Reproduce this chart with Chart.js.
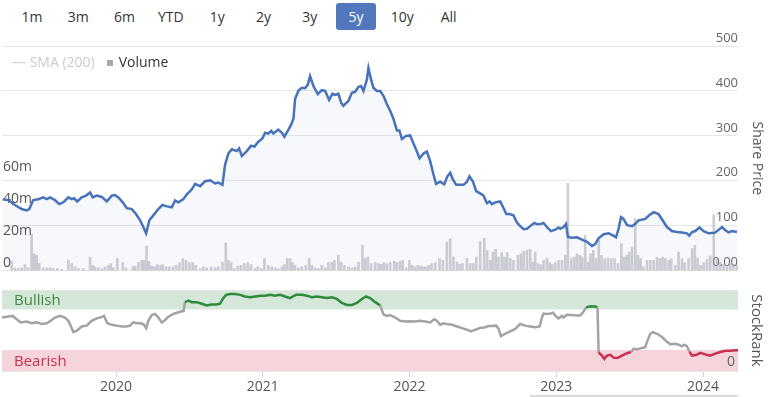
<!DOCTYPE html>
<html>
<head>
<meta charset="utf-8">
<script src="https://cdn.jsdelivr.net/npm/chart.js@4.4.1/dist/chart.umd.min.js"></script>
<style>
  html, body { margin: 0; padding: 0; background: #fff; }
  body { width: 769px; height: 397px; position: relative; overflow: hidden; font-family: 'Open Sans', sans-serif; }
  #ranges { position: absolute; left: 12px; top: 3px; display: flex; gap: 6.3px; }
  #ranges span { width: 40px; height: 27px; line-height: 27px; text-align: center; font-size: 14px; color: #333; border-radius: 3px; }
  #ranges span.on { background: #5177bc; color: #fff; }
  #legend { position: absolute; left: 12px; top: 52px; font-size: 14px; line-height: 20px; white-space: nowrap; }
  #legend .off { color: #ccc; }
  #legend .sq { display: inline-block; width: 6px; height: 6px; background: #aaa; margin: 0 6px 0 12px; vertical-align: 1px; }
  #legend .on { color: #333; }
  canvas { position: absolute; left: 0; }
  #main { top: 0; }
  #rank { top: 280px; }
  #scroll { position: absolute; left: 530px; width: 208px; top: 395px; height: 2px; background: #dcdcdc; }
</style>
</head>
<body>
<div id="ranges"></div>
<canvas id="main" width="769" height="280"></canvas>
<canvas id="rank" width="769" height="117"></canvas>
<div id="legend"><span class="off">— SMA (200)</span><span class="sq"></span><span class="on">Volume</span></div>
<div id="scroll"></div>
<script>
var rangeLabels = ['1m', '3m', '6m', 'YTD', '1y', '2y', '3y', '5y', '10y', 'All'];
var activeRange = '5y';

var xMin = 2019.223, xMax = 2024.238;
var yearTicks = [2020, 2021, 2022, 2023, 2024];
var priceTicks = [0, 100, 200, 300, 400, 500];
var volTicks = [0, 20, 40, 60];
var bullLevel = 76, bearLevel = 26;

var priceDates = [2019.228,2019.266,2019.311,2019.357,2019.391,2019.409,2019.436,2019.470,2019.504,2019.528,2019.550,2019.584,2019.613,2019.641,2019.675,2019.698,2019.714,2019.736,2019.766,2019.796,2019.823,2019.841,2019.868,2019.903,2019.937,2019.971,2019.993,
  2020.016,2020.046,2020.073,2020.107,2020.136,2020.164,2020.186,2020.205,2020.227,2020.254,2020.288,2020.316,2020.346,2020.380,2020.402,2020.425,2020.459,2020.482,2020.505,2020.516,2020.539,2020.573,2020.607,2020.641,2020.675,2020.697,2020.725,2020.743,2020.766,2020.789,2020.823,2020.839,2020.857,2020.891,2020.920,2020.943,2020.970,2020.997,
  2021.016,2021.038,2021.057,2021.072,2021.106,2021.130,2021.147,2021.175,2021.193,2021.209,2021.220,2021.243,2021.266,2021.288,2021.307,2021.322,2021.345,2021.375,2021.402,2021.425,2021.452,2021.475,2021.493,2021.515,2021.534,2021.549,2021.584,2021.607,2021.629,2021.652,2021.670,2021.686,2021.709,2021.720,2021.738,2021.754,2021.777,2021.800,2021.822,2021.845,2021.868,2021.890,2021.914,2021.931,2021.948,2021.977,
  2022.004,2022.027,2022.050,2022.068,2022.095,2022.118,2022.141,2022.163,2022.181,2022.209,2022.236,2022.258,2022.277,2022.295,2022.318,2022.345,2022.368,2022.391,2022.408,2022.432,2022.454,2022.481,2022.504,2022.527,2022.545,2022.561,2022.584,2022.618,2022.636,2022.659,2022.681,2022.708,2022.732,2022.754,2022.777,2022.800,2022.822,2022.850,2022.872,2022.895,2022.913,2022.936,2022.963,2022.993,
  2023.015,2023.027,2023.049,2023.066,2023.079,2023.107,2023.141,2023.175,2023.209,2023.243,2023.265,2023.288,2023.322,2023.356,2023.383,2023.407,2023.424,2023.441,2023.458,2023.482,2023.516,2023.538,2023.561,2023.606,2023.633,2023.663,2023.697,2023.724,2023.754,2023.788,2023.822,2023.856,2023.890,2023.906,2023.925,2023.947,2023.976,
  2024.004,2024.038,2024.079,2024.106,2024.129,2024.152,2024.174,2024.197,2024.231];
var prices = [159,157,146,137,134,137,157,159,163,159,163,157,148,152,163,159,161,154,163,167,174,163,167,164,154,167,168,
  163,152,139,137,126,112,97,83,112,123,137,146,143,141,156,152,159,170,177,181,193,188,199,201,194,196,191,236,261,270,266,272,255,266,278,276,287,294,
  307,305,311,305,314,307,298,314,325,338,382,401,407,406,414,433,411,393,402,400,380,394,391,394,374,367,378,396,398,409,411,400,425,451,425,407,400,400,389,371,356,338,312,312,293,300,
  301,283,265,250,261,265,243,214,193,198,192,210,218,203,191,191,191,198,210,198,177,172,167,150,154,148,152,154,142,126,126,123,107,99,92,93,99,106,103,104,106,97,88,91,
  96,93,97,104,75,73,74,69,64,55,59,72,81,83,79,74,93,119,115,101,99,104,112,115,123,130,126,112,97,88,86,85,83,78,86,88,96,
  88,83,84,91,97,90,85,88,86];

var volDates = [2019.289,2019.311,2019.334,2019.357,2019.380,2019.402,2019.425,2019.443,2019.459,2019.477,2019.504,2019.528,2019.550,2019.573,2019.600,2019.630,2019.675,2019.698,2019.721,2019.743,2019.777,2019.823,2019.841,2019.857,2019.879,2019.903,2019.925,2019.948,2019.964,2019.982,
  2020.009,2020.046,2020.068,2020.114,2020.130,2020.152,2020.175,2020.191,2020.208,2020.225,2020.243,2020.262,2020.280,2020.300,2020.318,2020.341,2020.363,2020.387,2020.409,2020.432,2020.455,2020.477,2020.500,2020.522,2020.543,2020.573,2020.595,2020.618,2020.648,2020.675,2020.697,2020.725,2020.748,2020.766,2020.784,2020.806,2020.830,2020.852,2020.875,2020.898,2020.920,2020.948,2020.966,2020.988,
  2021.011,2021.038,2021.061,2021.084,2021.106,2021.130,2021.147,2021.166,2021.186,2021.203,2021.220,2021.243,2021.266,2021.293,2021.316,2021.334,2021.357,2021.379,2021.402,2021.425,2021.447,2021.470,2021.488,2021.515,2021.534,2021.556,2021.584,2021.607,2021.629,2021.652,2021.679,2021.697,2021.716,2021.738,2021.766,2021.788,2021.807,2021.825,2021.845,2021.868,2021.895,2021.914,2021.936,2021.954,2021.977,2021.999,
  2022.018,2022.038,2022.057,2022.076,2022.095,2022.113,2022.132,2022.152,2022.175,2022.204,2022.227,2022.254,2022.277,2022.299,2022.323,2022.342,2022.361,2022.391,2022.413,2022.434,2022.454,2022.481,2022.509,2022.529,2022.550,2022.568,2022.587,2022.606,2022.628,2022.647,2022.665,2022.686,2022.708,2022.738,2022.758,2022.777,2022.800,2022.822,2022.839,2022.856,2022.875,2022.894,2022.913,2022.936,2022.955,2022.972,2022.993,
  2023.015,2023.038,2023.061,2023.079,2023.102,2023.122,2023.141,2023.160,2023.177,2023.197,2023.216,2023.233,2023.252,2023.270,2023.289,2023.308,2023.329,2023.352,2023.374,2023.397,2023.420,2023.443,2023.461,2023.479,2023.497,2023.516,2023.538,2023.556,2023.574,2023.593,2023.618,2023.640,2023.663,2023.686,2023.705,2023.724,2023.743,2023.765,2023.783,2023.811,2023.833,2023.856,2023.875,2023.901,2023.925,2023.944,2023.963,2023.983,
  2024.004,2024.027,2024.049,2024.073,2024.095,2024.117,2024.140,2024.163,2024.186,2024.208,2024.231];
var volumes = [6,1.7,1.3,1.7,3.8,1.7,22.7,10.6,9.6,4.4,1.7,1.7,1.7,1.3,1.3,0.8,6.5,4.4,2.3,1.3,1.3,8.5,3.3,2.3,1.7,1.3,2.3,3.3,4.4,1.7,
  7.5,5,1.7,2.3,2.9,5,6.5,6.5,15.4,5.8,2.9,2.3,3.8,3.3,3.8,2.3,2.3,2.3,3.3,5,7.5,6.5,5,5,3.3,1.3,2.3,1.7,2.3,1.7,2.3,5.4,17.5,6.5,5,1.3,2.9,3.3,4.4,5,3.8,1.3,2.3,1.3,
  7.5,3.3,2.3,1.7,1.3,2.3,3.8,7.5,7.5,5,3.3,1.7,2.3,3.3,7.9,3.3,1.7,1.3,3.3,1.7,5,5.4,6.5,9.6,5.4,3.3,2.3,1.7,2.3,5.4,15.8,7.5,8.5,4.4,5,4.4,4,5,4.4,5,5.8,5,5.8,6.5,1.7,6.5,
  3.3,2.3,3.3,2.9,2.3,2.3,3.3,4.4,5,7.5,6.5,17.9,20,8.5,5.4,4,4.4,7.9,4.4,4.4,8.5,18.3,20.4,12.7,6.5,11.7,13.3,8.5,11.3,8.5,11.3,7.9,6.5,9.6,10.6,12.1,12.7,13.3,5.4,11.7,4.4,3.8,6.5,7.9,5,3.8,5,
  6.5,6.5,9.6,55,7.5,8.5,10.6,9.6,8.5,22.1,5.4,10.6,12.7,7.5,19,9.6,7.5,7.9,7.5,7.5,4.4,16.9,8.5,9.6,11.7,14.8,32.5,9.6,7.5,2.3,6.5,6.5,6.5,8.5,7.5,8.5,7.5,6.5,7.5,3.3,11.7,7.5,5,7.5,13.8,15.8,7.9,3.3,
  5,7.1,9.2,35,7.5,5.4,3.8,3.3,4.4,3.8,3.3];

var rankDates = [2019.223,2019.255,2019.296,2019.323,2019.350,2019.391,2019.425,2019.459,2019.494,2019.528,2019.555,2019.584,2019.618,2019.652,2019.675,2019.691,2019.709,2019.736,2019.766,2019.800,2019.834,2019.868,2019.891,2019.918,2019.941,2019.971,
  2020.005,2020.039,2020.073,2020.095,2020.118,2020.141,2020.164,2020.186,2020.205,2020.220,2020.243,2020.266,2020.288,2020.312,2020.334,2020.357,2020.391,2020.425,2020.448,2020.460,2020.470,2020.493,2020.516,2020.550,2020.584,2020.618,2020.652,2020.686,2020.709,2020.727,2020.750,2020.777,2020.811,2020.845,2020.879,2020.914,2020.948,2020.982,
  2021.016,2021.050,2021.084,2021.118,2021.152,2021.186,2021.205,2021.227,2021.266,2021.300,2021.334,2021.368,2021.402,2021.436,2021.470,2021.505,2021.539,2021.573,2021.607,2021.641,2021.675,2021.704,2021.732,2021.766,2021.800,2021.822,2021.845,2021.868,2021.902,2021.936,2021.970,
  2022.004,2022.038,2022.072,2022.107,2022.141,2022.168,2022.186,2022.209,2022.231,2022.254,2022.289,2022.323,2022.357,2022.391,2022.418,2022.447,2022.481,2022.516,2022.538,2022.561,2022.591,2022.606,2022.623,2022.652,2022.686,2022.720,2022.754,2022.788,2022.822,2022.856,2022.886,2022.902,2022.913,2022.936,2022.959,2022.977,
  2023.000,2023.015,2023.038,2023.049,2023.072,2023.107,2023.141,2023.163,2023.182,2023.204,2023.231,2023.265,2023.281,2023.288,2023.311,2023.327,2023.345,2023.368,2023.390,2023.417,2023.447,2023.482,2023.509,2023.526,2023.554,2023.584,2023.606,2023.618,2023.640,2023.659,2023.686,2023.720,2023.754,2023.777,2023.811,2023.833,2023.856,2023.872,2023.890,2023.908,2023.925,2023.954,2023.981,
  2024.015,2024.049,2024.083,2024.117,2024.152,2024.186,2024.220,2024.238];
var ranks = [66,67,68,64,60,61,59,60,58,59,62,66,68,66,62,56,48,50,55,56,62,65,66,68,59,57,
  56,55,55,56,60,59,59,58,53,62,69,70.5,66,60,63,67,70.5,72.6,73.8,74,85,87,85,85,83,81,82,82,83,89,94,95,95,94,92,91,92,93,
  93,94,93,94,92,90,92,94,94,93,91,92,91,90,91,89,84,81.5,81.5,84,89,92,90,85,81,70,68,69,66,62,61,
  61.5,61,62,61,60,64,62,57,59,58,57,55,53,51,49,51,53,54,55.5,55.5,56,52,43,46,49,52,58,56,55,54,55,66,71,70.5,71,72,
  67,65,68,66,69.5,69,68.5,68.5,72.5,78.5,80,79.5,78.5,23,19,15,19,20,16.5,16,19,22,23.5,27.5,27,28.5,29.5,36,46,48,46,42,36,33,33.5,32.5,30.5,32.5,30.5,23.5,19,20,22.5,
  20.5,19,21.5,23.5,25,25,25.5,25.5];

var priceBlue = '#4872b9';
var bullGreen = '#2f8a3c', bearRed = '#cc2e4f', neutralGray = '#a3a3a3';

/* range selector */
var rangesEl = document.getElementById('ranges');
rangeLabels.forEach(function (r) {
  var s = document.createElement('span');
  s.textContent = r;
  if (r === activeRange) s.className = 'on';
  rangesEl.appendChild(s);
});

Chart.defaults.font.family = "'Open Sans', sans-serif";

function toPoints(xs, ys) {
  return xs.map(function (x, i) { return { x: x, y: ys[i] }; });
}

/* ── price + volume panel ── */
new Chart(document.getElementById('main'), {
  type: 'bar',
  data: {
    datasets: [
      {
        type: 'line',
        label: 'Share Price',
        data: toPoints(priceDates, prices),
        yAxisID: 'price',
        borderColor: priceBlue,
        borderWidth: 2.5,
        backgroundColor: 'rgba(72,114,185,0.05)',
        fill: 'start',
        pointRadius: 0,
        tension: 0,
        order: 0
      },
      {
        type: 'bar',
        label: 'Volume',
        data: toPoints(volDates, volumes),
        yAxisID: 'vol',
        backgroundColor: 'rgba(165,168,176,0.55)',
        barThickness: 2,
        order: 1
      }
    ]
  },
  options: {
    responsive: false,
    animation: false,
    layout: { padding: { top: 46, bottom: 4, left: 0, right: 0 } },
    plugins: {
      legend: { display: false },
      tooltip: { enabled: false },
      filler: { drawTime: 'beforeDatasetsDraw' }
    },
    scales: {
      x: { type: 'linear', min: xMin, max: xMax, offset: false, display: false },
      vol: {
        position: 'left',
        min: 0, max: 141,
        grid: { display: false },
        border: { display: false },
        afterBuildTicks: function (s) { s.ticks = volTicks.map(function (v) { return { value: v }; }); },
        afterFit: function (s) { s.width = 2; },
        ticks: {
          mirror: true, padding: 1, labelOffset: -8,
          color: '#555', font: { size: 14 },
          callback: function (v) { return v === 0 ? '0' : v + 'm'; }
        }
      },
      price: {
        position: 'right',
        min: 0, max: 500,
        grid: { color: '#e6e6e6', drawTicks: false },
        border: { display: false },
        afterBuildTicks: function (s) { s.ticks = priceTicks.map(function (v) { return { value: v }; }); },
        afterFit: function (s) { s.width = 31; },
        ticks: {
          mirror: true, padding: 0, labelOffset: -8,
          color: '#666', font: { size: 13 },
          callback: function (v) { return v === 0 ? '0.00' : String(v); }
        },
        title: { display: true, text: 'Share Price', color: '#555', font: { size: 14 }, padding: { top: 4, bottom: 4 } }
      }
    }
  }
});

/* ── StockRank panel ── */
// zones go under everything (grid, tick labels, line)
var bandsPlugin = {
  id: 'bands',
  beforeDraw: function (chart) {
    var ctx = chart.ctx, a = chart.chartArea, y = chart.scales.y;
    var bullTop = y.getPixelForValue(100), bullBot = y.getPixelForValue(bullLevel);
    var bearTop = y.getPixelForValue(bearLevel), bearBot = y.getPixelForValue(0);
    ctx.save();
    ctx.fillStyle = '#d4e7d9';
    ctx.fillRect(a.left, bullTop, a.right - a.left, bullBot - bullTop);
    ctx.fillStyle = '#f5d5db';
    ctx.fillRect(a.left, bearTop, a.right - a.left, bearBot - bearTop);
    ctx.font = "15px 'Open Sans', sans-serif";
    ctx.textBaseline = 'middle';
    ctx.fillStyle = '#3d8b3d';
    ctx.fillText('Bullish', a.left + 12, (bullTop + bullBot) / 2 + 1);
    ctx.fillStyle = '#c9304d';
    ctx.fillText('Bearish', a.left + 12, (bearTop + bearBot) / 2 + 1);
    ctx.restore();
  }
};

new Chart(document.getElementById('rank'), {
  type: 'line',
  data: {
    datasets: [{
      label: 'StockRank',
      data: toPoints(rankDates, ranks),
      borderWidth: 2.5,
      borderColor: neutralGray,
      pointRadius: 0,
      tension: 0,
      segment: {
        borderColor: function (c) {
          var a = c.p0.parsed.y, b = c.p1.parsed.y;
          if (a >= bullLevel && b >= bullLevel) return bullGreen;
          if (a <= bearLevel && b <= bearLevel) return bearRed;
          return neutralGray;
        }
      }
    }]
  },
  options: {
    responsive: false,
    animation: false,
    layout: { padding: { top: 10, left: 2, right: 0, bottom: 0 } },
    plugins: { legend: { display: false }, tooltip: { enabled: false } },
    scales: {
      x: {
        type: 'linear', min: xMin, max: xMax,
        afterBuildTicks: function (s) { s.ticks = yearTicks.map(function (v) { return { value: v }; }); },
        afterFit: function (s) { s.height = 26; },
        grid: { drawOnChartArea: false, tickLength: 6, color: '#ccd6eb' },
        border: { display: false },
        ticks: { color: '#555', font: { size: 14 }, padding: 2, maxRotation: 0, callback: function (v) { return String(v); } }
      },
      y: {
        position: 'right',
        min: 0, max: 100,
        afterBuildTicks: function (s) { s.ticks = [{ value: 0 }, { value: 100 }]; },
        afterFit: function (s) { s.width = 31; },
        grid: { color: '#e6e6e6', drawTicks: false },
        border: { display: false },
        ticks: {
          mirror: true, padding: -3, labelOffset: -9,
          color: '#666', font: { size: 14 },
          callback: function (v) { return v === 0 ? '0' : ''; }
        },
        title: { display: true, text: 'StockRank', color: '#555', font: { size: 15 }, padding: { top: 4, bottom: 4 } }
      }
    }
  },
  plugins: [bandsPlugin]
});
</script>
</body>
</html>
